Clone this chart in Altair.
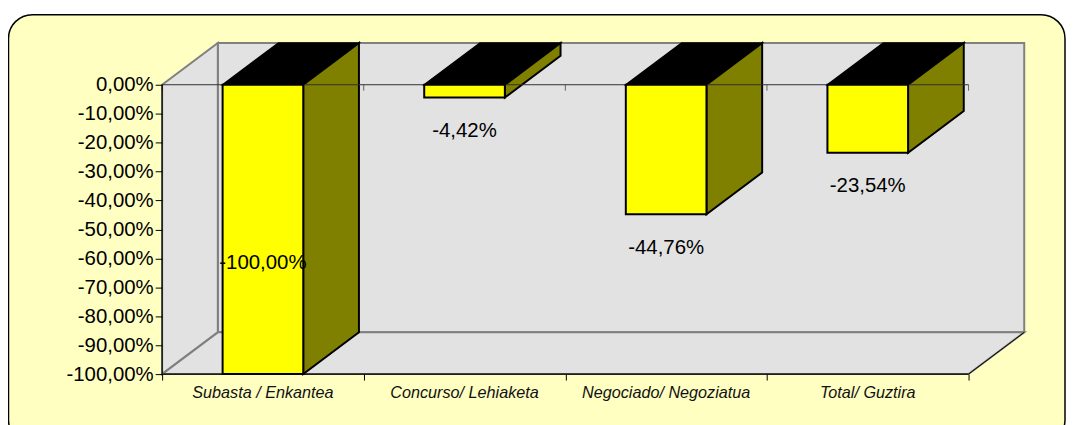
import altair as alt
import pandas as pd

# ---- data ----
categories = ["Subasta / Enkantea", "Concurso/ Lehiaketa", "Negociado/ Negoziatua", "Total/ Guztira"]
values = [-100.00, -4.42, -44.76, -23.54]
y_ticks = [-100, -90, -80, -70, -60, -50, -40, -30, -20, -10, 0]

# ---- geometry / style constants ----
N = len(categories)
CAT_PX = 202.75          # px per category
PCT_PX = 2.91            # px per percentage point
DEPTH_X_PX, DEPTH_Y_PX = 56, 42
DX = DEPTH_X_PX / CAT_PX
DY = DEPTH_Y_PX / PCT_PX
F0, F1 = 0.30, 0.70      # front face span inside a category
YMIN, YMAX = -100, 0
W = N * CAT_PX + DEPTH_X_PX
H = (YMAX - YMIN) * PCT_PX + DEPTH_Y_PX
FONT = "Liberation Sans"
WALL = "#E2E2E2"
EDGE = "#808080"
PAD = {"left": 155, "top": 34, "right": 42, "bottom": 50}

xs = alt.Scale(domain=[0, N + DX], nice=False, zero=False)
ys = alt.Scale(domain=[YMIN, YMAX + DY], nice=False, zero=False)

X_AX = alt.Axis(values=list(range(N + 1)), labels=False, domain=False, grid=False, ticks=True,
                tickColor="#000000", tickSize=6, tickWidth=1, title=None, zindex=2)
Y_AX = alt.Axis(values=y_ticks, domain=False, grid=False, tickColor="#000000", tickSize=7, tickWidth=1,
                labelFont=FONT, labelFontSize=20.5, labelColor="#000000", labelPadding=2, title=None, zindex=2,
                labelExpr="(datum.value < 0 ? '-' : '') + replace(format(abs(datum.value), '.2f'), '.', ',') + '%'")


def X(f, **kw):
    return alt.X(f, scale=xs, axis=X_AX, title=None, **kw)


def Y(f, **kw):
    return alt.Y(f, scale=ys, axis=Y_AX, title=None, **kw)


def pct(v):
    s = f"{abs(v):.2f}".replace(".", ",") + "%"
    return ("-" if v < 0 else "") + s


bars = pd.DataFrame({"cat": categories, "v": values, "i": list(range(N))})
bars["x0"] = bars["i"] + F0
bars["x1"] = bars["i"] + F1
bars["xc"] = bars["i"] + 0.5
bars["zero"] = 0.0
bars["base"] = float(YMIN)
bars["label"] = [pct(v) for v in values]
bars["ly"] = [max(v - 11.5, -61.5) for v in values]

side_rows, top_rows = [], []
for i, v in enumerate(values):
    side_rows.append(dict(b=i, x=i + F1, t=0.0, btm=v))
    side_rows.append(dict(b=i, x=i + F1 + DX, t=DY, btm=v + DY))
    top_rows.append(dict(b=i, y=0.0, xl=i + F0, xr=i + F1))
    top_rows.append(dict(b=i, y=DY, xl=i + F0 + DX, xr=i + F1 + DX))
side = pd.DataFrame(side_rows)
top = pd.DataFrame(top_rows)

left_wall = pd.DataFrame({"b": [0, 0], "x": [0, DX], "t": [YMAX, YMAX + DY], "btm": [YMIN, YMIN + DY]})
floor = pd.DataFrame({"b": [0, 0], "y": [YMIN, YMIN + DY], "xl": [0, DX], "xr": [N, N + DX]})
frame = pd.DataFrame({"x0": [0.0], "xn": [float(N)], "xd": [DX], "xnd": [N + DX],
                      "ymin": [float(YMIN)], "ymax": [float(YMAX)],
                      "ymind": [YMIN + DY], "ymaxd": [YMAX + DY]})
bounds = pd.DataFrame({"x": list(range(N + 1)), "y": [0.0] * (N + 1)})

# ---- layers ----
# chart-area panel (yellow, rounded); its bottom edge runs past the page bottom
bg = alt.Chart(pd.DataFrame({"a": [0]})).mark_rect(
    fill="#FFFFC2", stroke="#000000", strokeWidth=1.5, cornerRadius=24
).encode(x=alt.value(-154.5), x2=alt.value(908), y=alt.value(-28.5), y2=alt.value(H + PAD["bottom"] + 20))

back_wall = alt.Chart(frame).mark_rect(fill=WALL, stroke=EDGE, strokeWidth=2).encode(
    x=X("xd:Q"), x2="xnd:Q", y=Y("ymind:Q"), y2="ymaxd:Q",
)

lw = alt.Chart(left_wall).mark_area(fill=WALL, stroke=EDGE, strokeWidth=2).encode(
    x=X("x:Q"), y=Y("t:Q", stack=None), y2="btm:Q", detail="b:N",
)

fl = alt.Chart(floor).mark_area(orient="horizontal", fill=WALL, stroke=EDGE, strokeWidth=2).encode(
    y=Y("y:Q"), x=X("xl:Q", stack=None), x2="xr:Q", detail="b:N",
)

floor_front = alt.Chart(frame).mark_rule(color="#000000", strokeWidth=1.2).encode(
    x=X("x0:Q"), x2="xn:Q", y=Y("ymin:Q"),
)
floor_right = alt.Chart(frame).mark_rule(color="#000000", strokeWidth=1).encode(
    x=X("xn:Q"), x2="xnd:Q", y=Y("ymin:Q"), y2="ymind:Q",
)
y_line = alt.Chart(frame).mark_rule(color="#000000", strokeWidth=1.2).encode(
    x=X("x0:Q"), y=Y("ymin:Q"), y2="ymax:Q",
)

tops = alt.Chart(top).mark_area(orient="horizontal", fill="#000000", stroke="#000000", strokeWidth=1.5).encode(
    y=Y("y:Q"), x=X("xl:Q", stack=None), x2="xr:Q", detail="b:N",
)
sides = alt.Chart(side).mark_area(fill="#808000", stroke="#000000", strokeWidth=2).encode(
    x=X("x:Q"), y=Y("t:Q", stack=None), y2="btm:Q", detail="b:N",
)

zero_line = alt.Chart(frame).mark_rule(color="#303030", strokeWidth=1).encode(
    x=X("x0:Q"), x2="xn:Q", y=Y("ymax:Q"),
)
zero_ticks = alt.Chart(bounds).mark_tick(orient="vertical", color="#303030", size=6, thickness=1, yOffset=3).encode(
    x=X("x:Q"), y=Y("y:Q"),
)

fronts = alt.Chart(bars).mark_rect(fill="#FFFF00", stroke="#000000", strokeWidth=2).encode(
    x=X("x0:Q"), x2="x1:Q", y=Y("zero:Q"), y2="v:Q",
)

value_labels = alt.Chart(bars).mark_text(font=FONT, fontSize=20.5, color="#000000", baseline="middle").encode(
    x=X("xc:Q"), y=Y("ly:Q"), text="label:N",
)

cat_labels = alt.Chart(bars).mark_text(font=FONT, fontSize=16.3, fontStyle="italic", color="#111111",
                                       baseline="middle", dy=19).encode(
    x=X("xc:Q"), y=Y("base:Q"), text="cat:N",
)

chart = alt.layer(
    bg, back_wall, lw, fl, floor_right, tops, sides, zero_line, zero_ticks, fronts,
    floor_front, y_line, value_labels, cat_labels,
).properties(
    width=W, height=H,
    autosize=alt.AutoSizeParams(type="none"),
    padding=PAD,
).configure_view(stroke=None)

chart.save("out.html", embed_options={"renderer": "svg", "actions": False})
